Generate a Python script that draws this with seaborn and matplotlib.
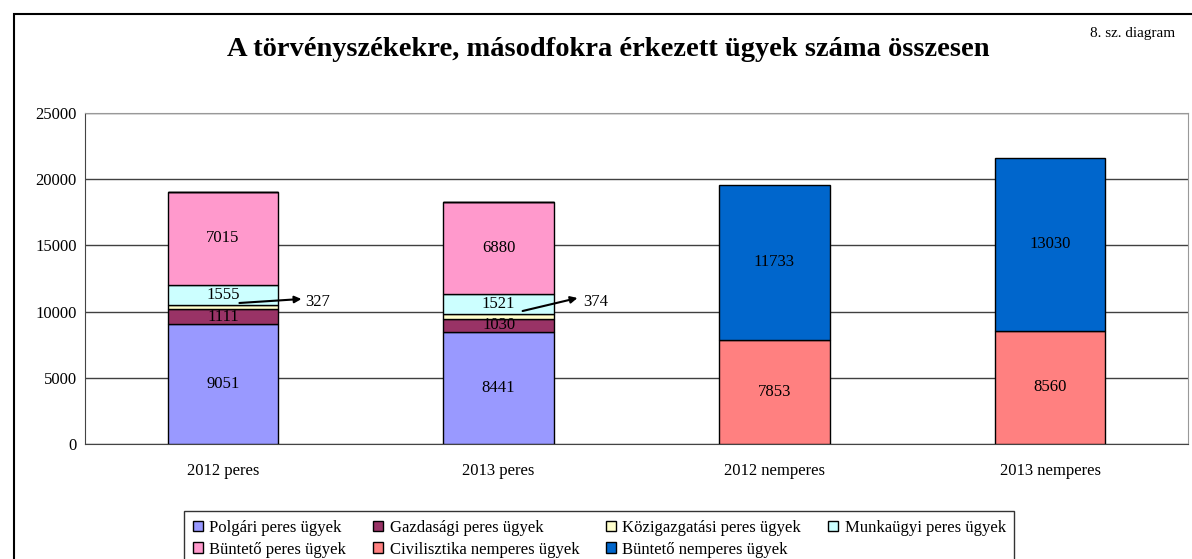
import numpy as np
import pandas as pd
import seaborn as sns
import matplotlib.pyplot as plt
from matplotlib.patches import Rectangle, Patch

# ---------------------------------------------------------------
# ADATOK
# ---------------------------------------------------------------
categories = ["2012 peres", "2013 peres", "2012 nemperes", "2013 nemperes"]
series_names = ["Polgári peres ügyek", "Gazdasági peres ügyek", "Közigazgatási peres ügyek",
                "Munkaügyi peres ügyek", "Büntető peres ügyek",
                "Civilisztika nemperes ügyek", "Büntető nemperes ügyek"]
polgari = [9051, 8441, 0, 0]
gazdasagi = [1111, 1030, 0, 0]
kozig = [327, 374, 0, 0]
munka = [1555, 1521, 0, 0]
bunteto_peres = [7015, 6880, 0, 0]
civil_nemperes = [0, 0, 7853, 8560]
bunteto_nemperes = [0, 0, 11733, 13030]
colors = ["#9999FF", "#993366", "#FFFFCC", "#CCFFFF", "#FF99CC", "#FF8080", "#0066CC"]

values = [polgari, gazdasagi, kozig, munka, bunteto_peres, civil_nemperes, bunteto_nemperes]

sns.set_style("white")
plt.rcParams["font.family"] = ["Liberation Serif", "DejaVu Serif"]
plt.rcParams["text.color"] = "black"
plt.rcParams["xtick.color"] = "black"
plt.rcParams["ytick.color"] = "black"

fig = plt.figure(figsize=(11.92, 5.59), dpi=100)
ax = fig.add_axes([85 / 1192, 1 - 444 / 559, 1103 / 1192, 331 / 559])

# ---------------------------------------------------------------
# HALMOZOTT OSZLOPOK
# ---------------------------------------------------------------
bottom = np.zeros(len(categories))
for name, vals, col in zip(series_names, values, colors):
    df = pd.DataFrame({"cat": categories, "val": vals})
    sns.barplot(data=df, x="cat", y="val", color=col, width=0.4, bottom=bottom,
                edgecolor="black", linewidth=1, saturation=1, ax=ax, zorder=3)
    for i, v in enumerate(vals):
        if v == 0 or name.startswith("Közig"):
            continue
        ax.text(i, bottom[i] + v / 2, str(v), ha="center", va="center",
                fontsize=12, color="black", zorder=5)
    bottom = bottom + np.array(vals)

# Közigazgatási: kis szegmens, felirat nyíllal
# (farok dx, dy, hegy dx, dy, felirat dx, dy) a szegmens közepéhez képest
kozig_bottom = np.array(polgari) + np.array(gazdasagi)
offsets = [(0.06, 325, 0.285, 627, 0.30, 400),
           (0.087, 387, 0.286, 1369, 0.305, 1067)]
for i, (dx_t, dy_t, dx_h, dy_h, dx_l, dy_l) in enumerate(offsets):
    base = kozig_bottom[i] + kozig[i] / 2
    ax.annotate("", xy=(i + dx_h, base + dy_h), xytext=(i + dx_t, base + dy_t),
                arrowprops=dict(arrowstyle="-|>", color="black", lw=1.5,
                                mutation_scale=10, shrinkA=0, shrinkB=0), zorder=6)
    ax.text(i + dx_l, base + dy_l, str(kozig[i]), ha="left", va="center",
            fontsize=12, zorder=6)

# ---------------------------------------------------------------
# TENGELYEK
# ---------------------------------------------------------------
ax.set_ylim(0, 25000)
ax.set_xlim(-0.5, 3.5)
ax.set_yticks(range(0, 25001, 5000))
ax.tick_params(axis="y", labelsize=12, length=5, direction="inout", color="#444444")
ax.tick_params(axis="x", labelsize=12, length=0, pad=14)
ax.set_xticks(np.arange(-0.5, 3.6, 1), minor=True)
ax.tick_params(axis="x", which="minor", length=5, direction="inout", color="#444444")
ax.set_xlabel("")
ax.set_ylabel("")
ax.yaxis.grid(True, color="#404040", linewidth=1, zorder=0)
ax.set_axisbelow(True)
for s in ["top", "right"]:
    ax.spines[s].set_color("#999999")
for s in ["left", "bottom"]:
    ax.spines[s].set_color("#444444")

# Cím
fig.text(608 / 1192, 1 - 50 / 559, "A törvényszékekre, másodfokra érkezett ügyek száma összesen",
         ha="center", va="center", fontsize=20.5, fontweight="bold", color="black")
fig.text(1090 / 1192, 1 - 33 / 559, "8. sz. diagram", ha="left", va="center", fontsize=11)

# Jelmagyarázat (soronkénti sorrend 4 oszlopban)
order = [0, 4, 1, 5, 2, 6, 3]
handles = [Patch(facecolor=colors[k], edgecolor="black", linewidth=1) for k in order]
labels = [series_names[k] for k in order]
leg = fig.legend(handles, labels, ncol=4, loc="upper left",
                 bbox_to_anchor=(176 / 1192, 1 - 503 / 559), fontsize=12,
                 frameon=True, fancybox=False, edgecolor="black",
                 handlelength=0.6, handleheight=0.6, handletextpad=0.4,
                 columnspacing=1.6, borderpad=0.5, labelspacing=0.35)
leg.get_frame().set_linewidth(1)

# Külső keret
fig.patches.append(Rectangle((14 / 1192, -0.1), 1.2, 1 - 14 / 559 + 0.1,
                             transform=fig.transFigure, fill=False,
                             edgecolor="black", linewidth=1.5))

fig.savefig("out.png", dpi=100)
